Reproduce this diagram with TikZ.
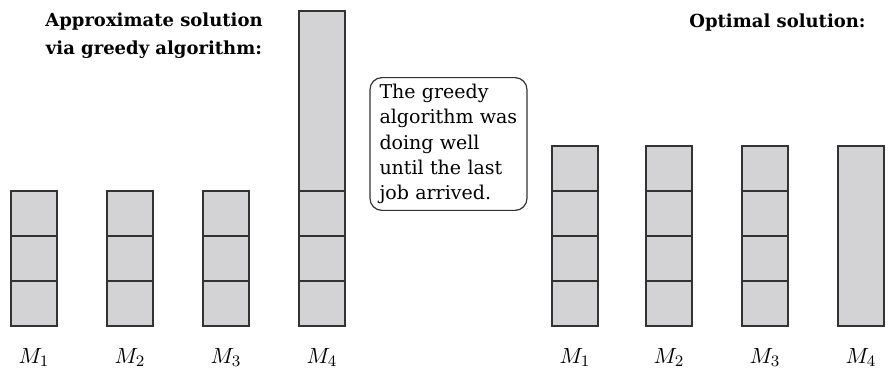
\documentclass[tikz,border=0pt]{standalone}
\usepackage{fontspec}
\setmainfont{DejaVu Serif}
\usetikzlibrary{positioning}
\definecolor{jobgray}{RGB}{211,211,213}
\tikzset{
    % One unit-length job on a machine - gray square
    job/.style={rectangle, draw=black!80, fill=jobgray, line width=0.6pt,
        minimum width=23pt, minimum height=22.5pt, inner sep=0pt, outer sep=0pt},
    % The last (long) job - four units tall
    long job/.style={job, minimum height=90pt},
    % Machine names under the stacks
    machine/.style={font=\fontsize{11}{13}\selectfont},
    % Bold headings
    heading/.style={font=\fontsize{9}{14}\selectfont\bfseries, align=center},
    % Rounded remark box
    remark/.style={draw=black!80, line width=0.6pt, rounded corners=6pt,
        minimum width=78.5pt, minimum height=63pt, text width=69pt,
        inner xsep=4.5pt, align=left, font=\fontsize{9.5}{12.6}\selectfont}
}

\begin{document}
\begin{tikzpicture}[x=0.5pt, y=0.5pt]
    \useasboundingbox (0,0) rectangle (891,371);

    % --- Greedy schedule (left) ---
    \node[job, anchor=south] (g1a) at (34,45) {};
    \node[job, above=0pt of g1a] (g1b) {};
    \node[job, above=0pt of g1b] (g1c) {};

    \node[job, anchor=south] (g2a) at (130,45) {};
    \node[job, above=0pt of g2a] (g2b) {};
    \node[job, above=0pt of g2b] (g2c) {};

    \node[job, anchor=south] (g3a) at (226,45) {};
    \node[job, above=0pt of g3a] (g3b) {};
    \node[job, above=0pt of g3b] (g3c) {};

    \node[job, anchor=south] (g4a) at (322,45) {};
    \node[job, above=0pt of g4a] (g4b) {};
    \node[job, above=0pt of g4b] (g4c) {};
    \node[long job, above=0pt of g4c] (g4d) {};

    \node[machine, below=7.5pt of g1a] (gm1) {$M_1$};
    \node[machine, below=7.5pt of g2a] (gm2) {$M_2$};
    \node[machine, below=7.5pt of g3a] (gm3) {$M_3$};
    \node[machine, below=7.5pt of g4a] (gm4) {$M_4$};

    \node[heading] (greedy title) at (154,335)
        {Approximate solution\\via greedy algorithm:};

    % --- Optimal schedule (right) ---
    \node[job, anchor=south] (o1a) at (575,45) {};
    \node[job, above=0pt of o1a] (o1b) {};
    \node[job, above=0pt of o1b] (o1c) {};
    \node[job, above=0pt of o1c] (o1d) {};

    \node[job, anchor=south] (o2a) at (669,45) {};
    \node[job, above=0pt of o2a] (o2b) {};
    \node[job, above=0pt of o2b] (o2c) {};
    \node[job, above=0pt of o2c] (o2d) {};

    \node[job, anchor=south] (o3a) at (765,45) {};
    \node[job, above=0pt of o3a] (o3b) {};
    \node[job, above=0pt of o3b] (o3c) {};
    \node[job, above=0pt of o3c] (o3d) {};

    \node[long job, anchor=south] (o4a) at (861,45) {};

    \node[machine, below=7.5pt of o1a] (om1) {$M_1$};
    \node[machine, below=7.5pt of o2a] (om2) {$M_2$};
    \node[machine, below=7.5pt of o3a] (om3) {$M_3$};
    \node[machine, below=7.5pt of o4a] (om4) {$M_4$};

    \node[heading, anchor=base] (optimal title) at (777.5,344) {Optimal solution:};

    % --- Remark ---
    \node[remark] (note) at (448.5,227)
        {The greedy\\algorithm was\\doing well\\until the last\\job arrived.};

\end{tikzpicture}
\end{document}
